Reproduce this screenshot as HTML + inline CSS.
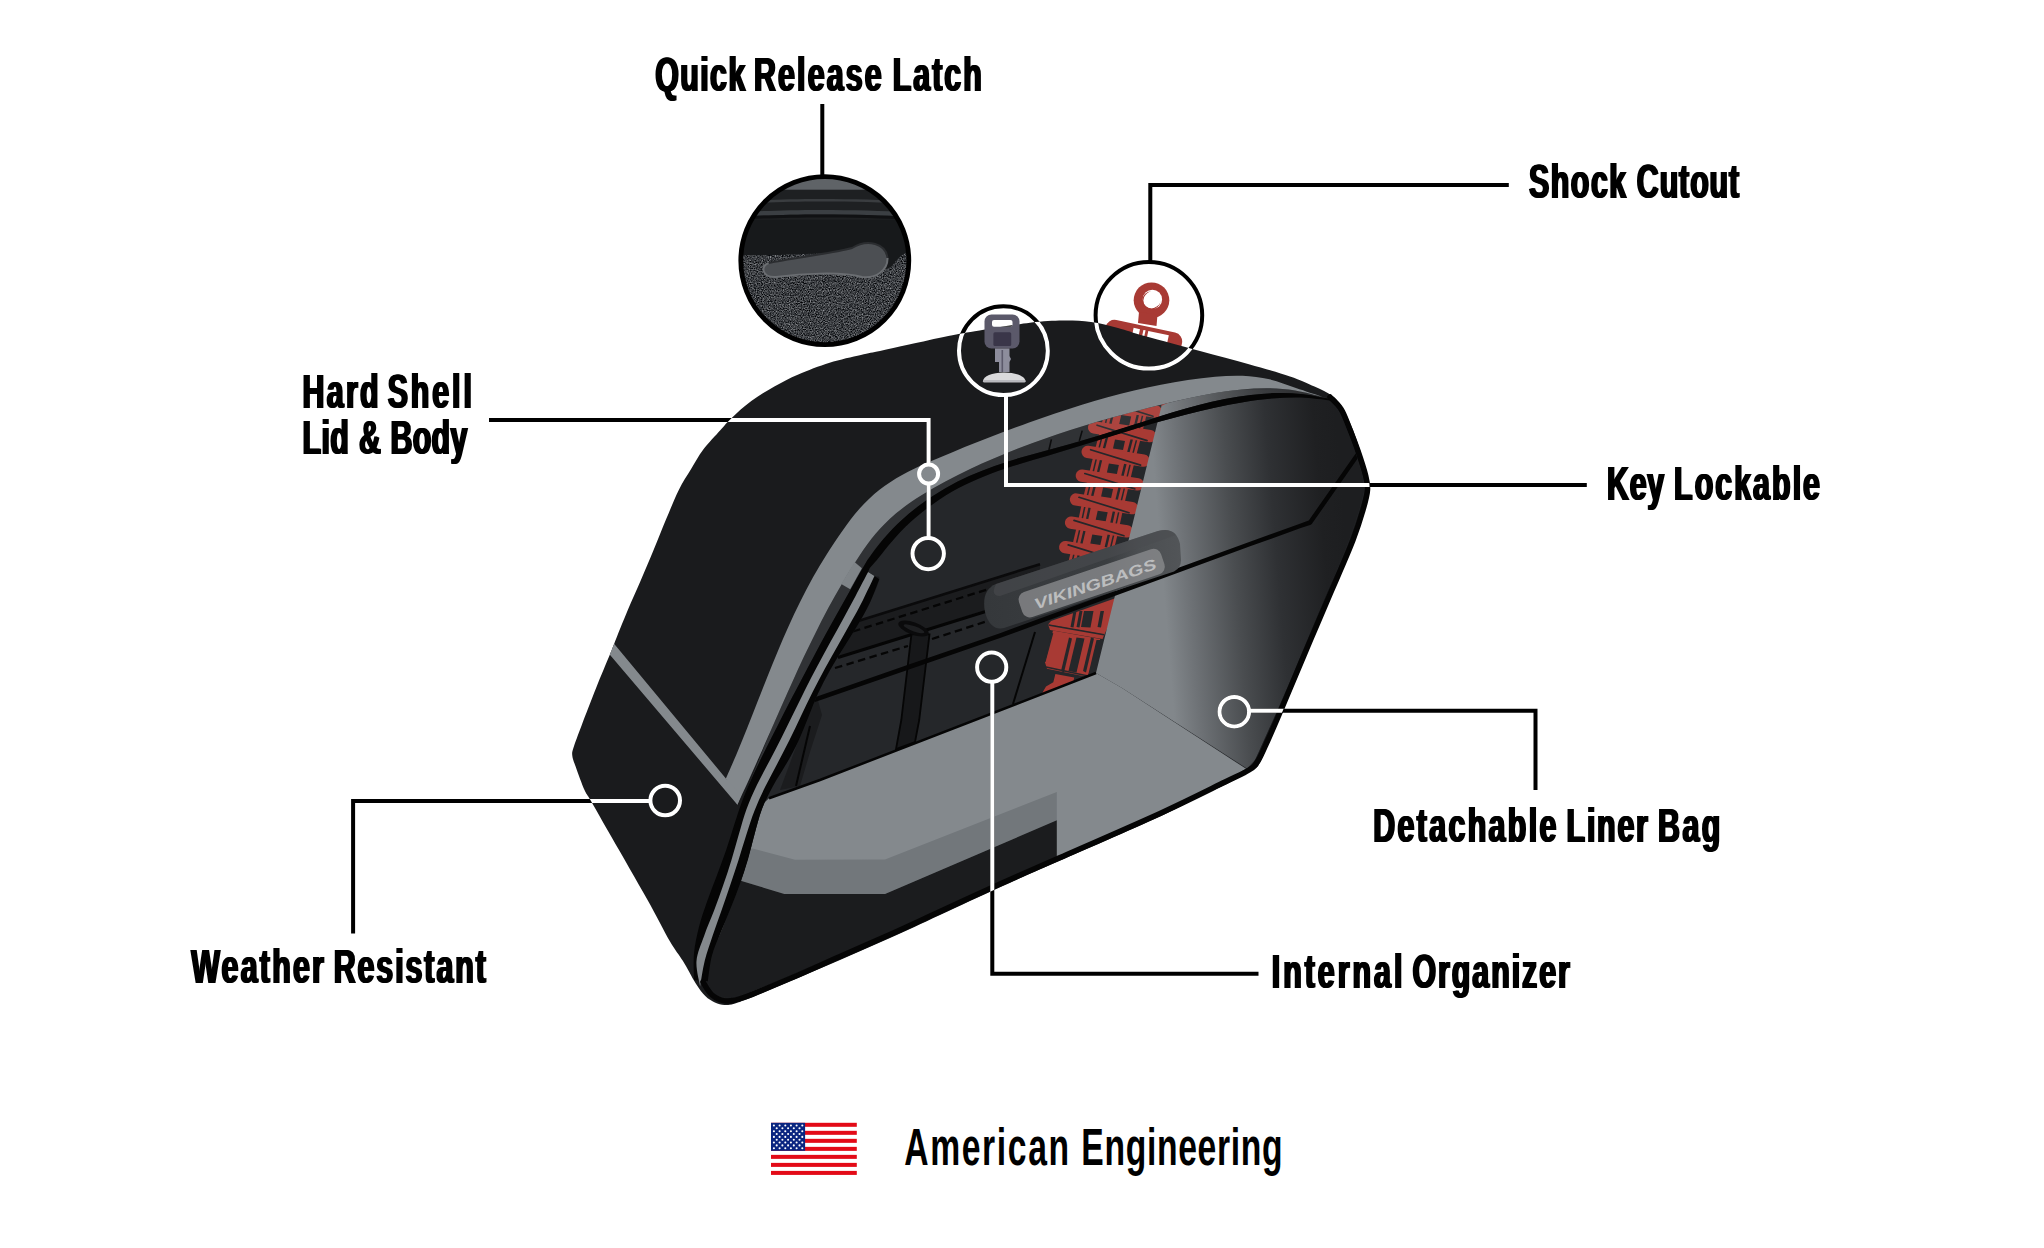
<!DOCTYPE html>
<html lang="en"><head><meta charset="utf-8"><title>Hard Shell Saddlebag Features</title>
<style>html,body{margin:0;padding:0;background:#fff}svg{display:block}text{font-family:"Liberation Sans",sans-serif;font-weight:700}</style></head>
<body>
<svg width="2044" height="1248" viewBox="0 0 2044 1248">
<defs>
<clipPath id="bagclip"><path d="M572.3 755.7C571.9 752.3 572.2 752.2 573.7 747.1C575.2 742.0 577.9 735.3 581.6 725.4C585.3 715.5 591.4 699.7 596.1 687.9C600.8 676.1 606.8 662.0 609.8 654.7C612.8 647.4 611.1 651.4 614.1 643.9C617.1 636.4 623.4 620.4 627.8 610.0C632.2 599.6 636.1 591.4 640.4 581.3C644.7 571.2 649.5 560.0 653.8 549.6C658.1 539.2 662.1 528.7 666.3 518.8C670.5 508.9 674.7 498.3 678.8 490.0C682.9 481.7 687.0 475.8 691.1 469.1C695.2 462.4 698.4 456.1 703.3 449.6C708.2 443.1 715.8 435.3 720.5 430.0C725.2 424.7 726.6 422.7 731.7 417.9C736.8 413.1 744.1 406.4 751.3 401.1C758.5 395.8 767.0 390.6 774.8 386.2C782.6 381.8 789.2 378.3 798.3 374.4C807.4 370.5 819.2 365.9 829.6 362.7C840.0 359.4 852.5 356.8 860.9 354.9C869.3 352.9 872.0 352.7 880.0 351.0C888.0 349.3 897.7 347.1 909.1 344.6C920.5 342.1 936.5 338.4 948.3 336.0C960.0 333.6 966.0 332.7 979.6 330.5C993.2 328.3 1016.1 324.4 1030.0 322.7C1043.9 321.0 1052.8 320.6 1063.0 320.5C1073.2 320.4 1081.8 320.8 1091.0 322.0C1100.2 323.2 1108.9 325.6 1118.0 328.0C1127.1 330.4 1131.8 332.5 1145.5 336.3C1159.2 340.1 1182.8 346.4 1200.0 351.0C1217.2 355.6 1233.9 360.0 1248.9 364.2C1263.9 368.4 1279.1 372.7 1290.0 376.4C1300.9 380.1 1307.6 383.4 1314.5 386.6C1321.4 389.8 1327.5 392.8 1331.6 395.4C1335.7 398.0 1336.9 399.9 1338.9 402.3C1340.9 404.8 1342.2 407.2 1343.8 410.1C1345.4 413.0 1347.2 416.6 1348.7 419.9C1350.2 423.2 1351.2 425.0 1353.1 430.0C1355.0 435.0 1357.6 442.5 1360.0 450.0C1362.4 457.5 1365.9 468.3 1367.5 475.0C1369.1 481.7 1369.9 484.2 1369.5 490.0C1369.1 495.8 1367.4 501.7 1365.0 510.0C1362.6 518.3 1358.8 530.0 1355.0 540.0C1351.2 550.0 1346.2 561.3 1342.5 570.0C1338.8 578.7 1338.0 580.3 1333.0 592.0C1328.0 603.7 1318.7 625.3 1312.5 640.0C1306.3 654.7 1301.0 668.2 1296.0 680.0C1291.0 691.8 1287.1 700.8 1282.8 710.8C1278.5 720.8 1273.8 731.3 1270.0 740.0C1266.2 748.7 1262.8 757.8 1259.9 762.8C1257.0 767.8 1258.6 766.1 1252.8 769.8C1247.0 773.5 1233.8 780.6 1225.0 785.0C1216.2 789.4 1210.8 791.0 1200.0 796.2C1189.2 801.4 1184.8 805.0 1160.0 816.4C1135.2 827.8 1077.7 852.8 1051.0 864.6C1024.3 876.4 1018.5 878.8 1000.0 887.2C981.5 895.6 958.3 906.5 940.0 915.0C921.7 923.5 906.7 930.5 890.0 938.0C873.3 945.5 856.7 952.8 840.0 960.0C823.3 967.2 804.5 975.2 790.0 981.3C775.5 987.4 762.6 993.0 753.3 996.7C744.0 1000.4 738.9 1002.3 734.1 1003.7C729.3 1005.1 727.7 1005.2 724.5 1005.0C721.3 1004.8 718.1 1003.9 714.9 1002.4C711.7 1000.9 708.5 999.2 705.3 996.0C702.1 992.8 699.4 989.1 695.6 983.2C691.9 977.3 687.1 967.8 682.8 960.8C678.5 953.8 676.0 951.8 670.0 941.5C664.0 931.2 656.7 916.3 647.0 899.0C637.3 881.7 621.2 853.9 611.8 837.5C602.4 821.1 595.2 808.4 590.7 800.5C586.2 792.6 587.0 795.5 584.5 790.0C582.0 784.5 577.9 773.0 575.9 767.3C573.9 761.6 572.7 759.1 572.3 755.7Z"/></clipPath>
<clipPath id="intclip"><path d="M1330.0 400.5C1325.7 400.2 1310.6 397.9 1301.0 397.6C1291.3 397.3 1281.6 397.8 1272.0 398.6C1262.4 399.4 1252.7 400.8 1243.2 402.3C1233.6 403.9 1224.1 405.7 1214.6 407.8C1205.1 409.8 1195.7 412.0 1186.3 414.4C1176.9 416.8 1167.5 419.4 1158.1 422.1C1148.8 424.7 1139.4 427.6 1130.1 430.4C1120.8 433.2 1111.6 436.1 1102.3 439.0C1093.0 441.8 1083.8 444.8 1074.6 447.6C1065.3 450.4 1056.0 453.2 1046.8 456.0C1037.5 458.7 1028.1 461.3 1018.8 464.2C1009.6 467.1 1000.3 470.0 991.2 473.5C982.2 477.0 973.2 480.7 964.5 485.0C955.9 489.3 947.4 494.1 939.4 499.4C931.3 504.8 923.5 510.7 916.2 517.1C908.8 523.4 901.8 530.3 895.3 537.4C888.7 544.6 879.9 556.2 876.8 560.0C873.7 563.8 878.0 558.7 876.8 560.0C875.6 561.3 871.2 566.1 869.7 568.1C868.2 570.1 867.3 570.8 868.1 572.1C868.9 573.4 872.6 574.9 874.5 576.1C876.4 577.3 880.1 574.8 879.3 579.3C878.5 583.8 873.3 595.5 869.6 603.3C865.9 611.1 861.5 618.6 857.1 626.0C852.7 633.5 847.9 640.7 843.4 648.1C838.8 655.4 834.1 662.7 829.9 670.2C825.6 677.7 821.6 685.4 818.0 693.2C814.4 701.0 811.6 709.2 808.3 717.2C805.0 725.2 802.0 733.4 798.3 741.2C794.6 749.0 790.4 756.5 786.1 764.1C781.9 771.6 776.9 778.8 772.8 786.3C768.8 793.9 764.8 801.5 761.8 809.4C758.8 817.3 756.9 825.7 754.6 834.0C752.3 842.2 750.5 850.7 748.1 858.9C745.7 867.2 743.0 875.3 740.1 883.4C737.2 891.6 734.0 899.6 730.9 907.6C727.7 915.6 724.2 923.6 721.0 931.6C717.8 939.6 714.1 947.5 711.9 955.8C709.7 964.1 707.3 975.1 707.8 981.3C708.3 987.5 712.1 990.1 714.9 992.8C717.7 995.5 721.3 996.7 724.5 997.3C727.7 997.9 729.2 997.6 734.0 996.5C738.8 995.4 744.0 994.3 753.3 990.9C762.6 987.5 775.5 982.3 790.0 976.2C804.5 970.1 823.3 961.8 840.0 954.5C856.7 947.2 873.3 940.0 890.0 932.5C906.7 925.0 921.7 917.9 940.0 909.5C958.3 901.1 981.5 890.3 1000.0 882.0C1018.5 873.7 1024.3 871.2 1051.0 859.5C1077.7 847.8 1131.0 824.7 1160.0 811.5C1189.0 798.3 1210.5 787.7 1225.0 780.5C1239.5 773.3 1242.0 771.9 1247.0 768.5C1252.0 765.1 1252.0 765.1 1255.0 760.0C1258.0 754.9 1261.2 746.5 1265.0 738.0C1268.8 729.5 1273.7 718.8 1278.0 709.0C1282.3 699.2 1286.0 690.8 1291.0 679.0C1296.0 667.2 1301.8 652.8 1308.0 638.0C1314.2 623.2 1323.0 601.7 1328.0 590.0C1333.0 578.3 1334.3 576.7 1338.0 568.0C1341.7 559.3 1346.3 548.0 1350.0 538.0C1353.7 528.0 1357.6 516.0 1360.0 508.0C1362.4 500.0 1364.1 495.5 1364.5 490.0C1364.9 484.5 1364.1 481.5 1362.5 475.0C1360.9 468.5 1357.4 458.3 1355.0 451.0C1352.6 443.7 1349.9 436.0 1348.0 431.0C1346.1 426.0 1345.1 424.3 1343.5 421.0C1341.9 417.7 1340.2 413.8 1338.5 411.0C1336.8 408.2 1335.4 405.9 1333.5 404.0C1331.6 402.1 1327.6 400.1 1327.0 399.5C1326.4 398.9 1334.3 400.8 1330.0 400.5Z"/><path d="M1322.0 396.8C1317.5 395.7 1304.1 391.9 1295.2 390.5C1286.3 389.0 1277.3 388.4 1268.4 388.2C1259.5 388.1 1250.6 388.6 1241.7 389.4C1232.8 390.1 1223.9 391.5 1215.0 393.0C1206.2 394.5 1197.3 396.4 1188.5 398.3C1179.6 400.3 1170.8 402.4 1162.0 404.6C1153.2 406.7 1144.4 408.9 1135.6 411.2C1126.8 413.5 1118.1 415.9 1109.3 418.3C1100.6 420.8 1092.0 423.3 1083.3 426.0C1074.7 428.6 1066.1 431.3 1057.5 434.2C1049.0 437.1 1040.4 440.0 1032.0 443.2C1023.5 446.3 1015.1 449.5 1006.8 452.9C998.4 456.3 990.2 459.8 981.9 463.6C973.7 467.3 965.6 471.1 957.5 475.2C949.4 479.3 941.4 483.4 933.6 487.9C925.8 492.5 918.0 497.1 910.7 502.3C903.4 507.5 896.2 512.9 889.7 519.0C883.2 525.1 877.2 531.8 871.5 538.8C865.9 545.9 860.9 553.6 855.9 561.2C850.9 568.7 846.2 576.5 841.6 584.4C837.0 592.2 832.6 600.1 828.3 608.1C824.0 616.1 819.9 624.2 815.9 632.2C811.8 640.3 807.9 648.5 804.0 656.6C800.2 664.8 796.4 673.0 792.7 681.2C789.0 689.4 785.3 697.6 781.7 705.8C778.0 714.1 772.6 726.4 770.8 730.6L742.9 799.3C744.7 795.2 749.8 782.8 753.5 774.6C757.2 766.4 761.3 758.4 765.2 750.3C769.2 742.2 773.3 734.2 777.4 726.2C781.5 718.1 785.6 710.1 789.7 702.1C793.9 694.1 798.0 686.2 802.3 678.2C806.5 670.2 810.7 662.3 815.0 654.3C819.2 646.4 823.5 638.5 827.8 630.6C832.2 622.7 836.5 614.8 840.9 607.0C845.3 599.1 849.7 591.2 854.1 583.4C858.6 575.6 862.6 567.5 867.5 560.0C872.4 552.5 877.9 545.4 883.7 538.7C889.6 531.9 895.8 525.5 902.4 519.5C909.0 513.5 915.9 507.9 923.1 502.7C930.3 497.4 937.8 492.6 945.5 488.2C953.2 483.8 961.2 479.8 969.3 476.1C977.4 472.5 985.7 469.3 994.0 466.3C1002.3 463.2 1010.8 460.6 1019.3 458.1C1027.8 455.5 1036.3 453.3 1044.8 450.9C1053.3 448.5 1061.8 446.3 1070.3 443.9C1078.9 441.5 1087.4 439.1 1095.9 436.6C1104.4 434.0 1112.9 431.3 1121.5 428.6C1130.0 425.9 1138.6 423.1 1147.2 420.4C1155.7 417.6 1164.3 414.9 1172.9 412.3C1181.6 409.8 1190.2 407.2 1198.8 405.0C1207.5 402.8 1216.1 400.7 1224.8 399.0C1233.5 397.3 1242.2 395.9 1250.9 394.9C1259.7 393.9 1268.4 393.2 1277.2 393.1C1285.9 393.0 1294.7 393.3 1303.5 394.3C1312.3 395.3 1325.6 398.2 1330.0 399.0Z"/></clipPath>
<linearGradient id="panelg" gradientUnits="userSpaceOnUse" x1="1150" y1="420" x2="1335" y2="405"><stop offset="0" stop-color="#82878b"/><stop offset="0.135" stop-color="#6e7276"/><stop offset="0.39" stop-color="#4a4d50"/><stop offset="0.62" stop-color="#2f3134"/><stop offset="0.88" stop-color="#1f2022"/><stop offset="1" stop-color="#1d1e20"/></linearGradient>
<linearGradient id="handleg" gradientUnits="userSpaceOnUse" x1="985" y1="0" x2="1182" y2="0"><stop offset="0" stop-color="#35383b"/><stop offset="0.62" stop-color="#3b3e41"/><stop offset="0.78" stop-color="#4b4e51"/><stop offset="1" stop-color="#525558"/></linearGradient>
<filter id="tb" x="-5%" y="-5%" width="110%" height="110%"><feOffset in="SourceGraphic" dx="-0.8" result="a"/><feOffset in="SourceGraphic" dx="0.8" result="b"/><feMerge><feMergeNode in="a"/><feMergeNode in="SourceGraphic"/><feMergeNode in="b"/></feMerge></filter>
<filter id="tc" x="-5%" y="-5%" width="110%" height="110%"><feOffset in="SourceGraphic" dx="-0.5" result="a"/><feOffset in="SourceGraphic" dx="0.5" result="b"/><feMerge><feMergeNode in="a"/><feMergeNode in="SourceGraphic"/><feMergeNode in="b"/></feMerge></filter>
<filter id="grain" x="0" y="0" width="100%" height="100%" color-interpolation-filters="sRGB"><feTurbulence type="fractalNoise" baseFrequency="0.85" numOctaves="2" seed="7" result="n"/><feColorMatrix in="n" type="matrix" values="0.9 0 0 0 -0.215  0.9 0 0 0 -0.205  0.9 0 0 0 -0.19  0 0 0 0 1" result="g"/><feComposite in="g" in2="SourceGraphic" operator="in"/></filter>
<clipPath id="latchclip"><circle cx="824.8" cy="260.6" r="84"/></clipPath>
<clipPath id="shockcirc"><circle cx="1148.9" cy="315.3" r="53.3"/></clipPath>
</defs>
<rect width="2044" height="1248" fill="#fff"/>
<circle cx="1148.9" cy="315.3" r="53.3" fill="#fff"/>
<g clip-path="url(#shockcirc)"><circle cx="1151.5" cy="300.2" r="17.8" fill="#a83a34"/>
<circle cx="1152.4" cy="299.4" r="9.7" fill="#fff"/>
<circle cx="1151.4" cy="300.4" r="8.6" fill="none" stroke="#a83a34" stroke-width="1.1"/>
<circle cx="1153.2" cy="298.9" r="8.1" fill="#fff"/>
<path d="M1139 312 L1157.5 314.5 L1156.5 326 L1138 323 Z" fill="#a83a34"/>
<g transform="translate(0 4) rotate(12 1143 335)"><rect x="1104" y="322" width="78" height="40" rx="9" fill="#a83a34"/>
<rect x="1131.5" y="326" width="6.5" height="30" fill="#fff"/><rect x="1141.5" y="326" width="2.2" height="30" fill="#fff"/><rect x="1146.5" y="326" width="21" height="8" fill="#fff"/></g>
</g>
<path d="M572.3 755.7C571.9 752.3 572.2 752.2 573.7 747.1C575.2 742.0 577.9 735.3 581.6 725.4C585.3 715.5 591.4 699.7 596.1 687.9C600.8 676.1 606.8 662.0 609.8 654.7C612.8 647.4 611.1 651.4 614.1 643.9C617.1 636.4 623.4 620.4 627.8 610.0C632.2 599.6 636.1 591.4 640.4 581.3C644.7 571.2 649.5 560.0 653.8 549.6C658.1 539.2 662.1 528.7 666.3 518.8C670.5 508.9 674.7 498.3 678.8 490.0C682.9 481.7 687.0 475.8 691.1 469.1C695.2 462.4 698.4 456.1 703.3 449.6C708.2 443.1 715.8 435.3 720.5 430.0C725.2 424.7 726.6 422.7 731.7 417.9C736.8 413.1 744.1 406.4 751.3 401.1C758.5 395.8 767.0 390.6 774.8 386.2C782.6 381.8 789.2 378.3 798.3 374.4C807.4 370.5 819.2 365.9 829.6 362.7C840.0 359.4 852.5 356.8 860.9 354.9C869.3 352.9 872.0 352.7 880.0 351.0C888.0 349.3 897.7 347.1 909.1 344.6C920.5 342.1 936.5 338.4 948.3 336.0C960.0 333.6 966.0 332.7 979.6 330.5C993.2 328.3 1016.1 324.4 1030.0 322.7C1043.9 321.0 1052.8 320.6 1063.0 320.5C1073.2 320.4 1081.8 320.8 1091.0 322.0C1100.2 323.2 1108.9 325.6 1118.0 328.0C1127.1 330.4 1131.8 332.5 1145.5 336.3C1159.2 340.1 1182.8 346.4 1200.0 351.0C1217.2 355.6 1233.9 360.0 1248.9 364.2C1263.9 368.4 1279.1 372.7 1290.0 376.4C1300.9 380.1 1307.6 383.4 1314.5 386.6C1321.4 389.8 1327.5 392.8 1331.6 395.4C1335.7 398.0 1336.9 399.9 1338.9 402.3C1340.9 404.8 1342.2 407.2 1343.8 410.1C1345.4 413.0 1347.2 416.6 1348.7 419.9C1350.2 423.2 1351.2 425.0 1353.1 430.0C1355.0 435.0 1357.6 442.5 1360.0 450.0C1362.4 457.5 1365.9 468.3 1367.5 475.0C1369.1 481.7 1369.9 484.2 1369.5 490.0C1369.1 495.8 1367.4 501.7 1365.0 510.0C1362.6 518.3 1358.8 530.0 1355.0 540.0C1351.2 550.0 1346.2 561.3 1342.5 570.0C1338.8 578.7 1338.0 580.3 1333.0 592.0C1328.0 603.7 1318.7 625.3 1312.5 640.0C1306.3 654.7 1301.0 668.2 1296.0 680.0C1291.0 691.8 1287.1 700.8 1282.8 710.8C1278.5 720.8 1273.8 731.3 1270.0 740.0C1266.2 748.7 1262.8 757.8 1259.9 762.8C1257.0 767.8 1258.6 766.1 1252.8 769.8C1247.0 773.5 1233.8 780.6 1225.0 785.0C1216.2 789.4 1210.8 791.0 1200.0 796.2C1189.2 801.4 1184.8 805.0 1160.0 816.4C1135.2 827.8 1077.7 852.8 1051.0 864.6C1024.3 876.4 1018.5 878.8 1000.0 887.2C981.5 895.6 958.3 906.5 940.0 915.0C921.7 923.5 906.7 930.5 890.0 938.0C873.3 945.5 856.7 952.8 840.0 960.0C823.3 967.2 804.5 975.2 790.0 981.3C775.5 987.4 762.6 993.0 753.3 996.7C744.0 1000.4 738.9 1002.3 734.1 1003.7C729.3 1005.1 727.7 1005.2 724.5 1005.0C721.3 1004.8 718.1 1003.9 714.9 1002.4C711.7 1000.9 708.5 999.2 705.3 996.0C702.1 992.8 699.4 989.1 695.6 983.2C691.9 977.3 687.1 967.8 682.8 960.8C678.5 953.8 676.0 951.8 670.0 941.5C664.0 931.2 656.7 916.3 647.0 899.0C637.3 881.7 621.2 853.9 611.8 837.5C602.4 821.1 595.2 808.4 590.7 800.5C586.2 792.6 587.0 795.5 584.5 790.0C582.0 784.5 577.9 773.0 575.9 767.3C573.9 761.6 572.7 759.1 572.3 755.7Z" fill="#1a1b1d"/>
<path d="M1330.0 400.5C1325.7 400.2 1310.6 397.9 1301.0 397.6C1291.3 397.3 1281.6 397.8 1272.0 398.6C1262.4 399.4 1252.7 400.8 1243.2 402.3C1233.6 403.9 1224.1 405.7 1214.6 407.8C1205.1 409.8 1195.7 412.0 1186.3 414.4C1176.9 416.8 1167.5 419.4 1158.1 422.1C1148.8 424.7 1139.4 427.6 1130.1 430.4C1120.8 433.2 1111.6 436.1 1102.3 439.0C1093.0 441.8 1083.8 444.8 1074.6 447.6C1065.3 450.4 1056.0 453.2 1046.8 456.0C1037.5 458.7 1028.1 461.3 1018.8 464.2C1009.6 467.1 1000.3 470.0 991.2 473.5C982.2 477.0 973.2 480.7 964.5 485.0C955.9 489.3 947.4 494.1 939.4 499.4C931.3 504.8 923.5 510.7 916.2 517.1C908.8 523.4 901.8 530.3 895.3 537.4C888.7 544.6 879.9 556.2 876.8 560.0C873.7 563.8 878.0 558.7 876.8 560.0C875.6 561.3 871.2 566.1 869.7 568.1C868.2 570.1 867.3 570.8 868.1 572.1C868.9 573.4 872.6 574.9 874.5 576.1C876.4 577.3 880.1 574.8 879.3 579.3C878.5 583.8 873.3 595.5 869.6 603.3C865.9 611.1 861.5 618.6 857.1 626.0C852.7 633.5 847.9 640.7 843.4 648.1C838.8 655.4 834.1 662.7 829.9 670.2C825.6 677.7 821.6 685.4 818.0 693.2C814.4 701.0 811.6 709.2 808.3 717.2C805.0 725.2 802.0 733.4 798.3 741.2C794.6 749.0 790.4 756.5 786.1 764.1C781.9 771.6 776.9 778.8 772.8 786.3C768.8 793.9 764.8 801.5 761.8 809.4C758.8 817.3 756.9 825.7 754.6 834.0C752.3 842.2 750.5 850.7 748.1 858.9C745.7 867.2 743.0 875.3 740.1 883.4C737.2 891.6 734.0 899.6 730.9 907.6C727.7 915.6 724.2 923.6 721.0 931.6C717.8 939.6 714.1 947.5 711.9 955.8C709.7 964.1 707.3 975.1 707.8 981.3C708.3 987.5 712.1 990.1 714.9 992.8C717.7 995.5 721.3 996.7 724.5 997.3C727.7 997.9 729.2 997.6 734.0 996.5C738.8 995.4 744.0 994.3 753.3 990.9C762.6 987.5 775.5 982.3 790.0 976.2C804.5 970.1 823.3 961.8 840.0 954.5C856.7 947.2 873.3 940.0 890.0 932.5C906.7 925.0 921.7 917.9 940.0 909.5C958.3 901.1 981.5 890.3 1000.0 882.0C1018.5 873.7 1024.3 871.2 1051.0 859.5C1077.7 847.8 1131.0 824.7 1160.0 811.5C1189.0 798.3 1210.5 787.7 1225.0 780.5C1239.5 773.3 1242.0 771.9 1247.0 768.5C1252.0 765.1 1252.0 765.1 1255.0 760.0C1258.0 754.9 1261.2 746.5 1265.0 738.0C1268.8 729.5 1273.7 718.8 1278.0 709.0C1282.3 699.2 1286.0 690.8 1291.0 679.0C1296.0 667.2 1301.8 652.8 1308.0 638.0C1314.2 623.2 1323.0 601.7 1328.0 590.0C1333.0 578.3 1334.3 576.7 1338.0 568.0C1341.7 559.3 1346.3 548.0 1350.0 538.0C1353.7 528.0 1357.6 516.0 1360.0 508.0C1362.4 500.0 1364.1 495.5 1364.5 490.0C1364.9 484.5 1364.1 481.5 1362.5 475.0C1360.9 468.5 1357.4 458.3 1355.0 451.0C1352.6 443.7 1349.9 436.0 1348.0 431.0C1346.1 426.0 1345.1 424.3 1343.5 421.0C1341.9 417.7 1340.2 413.8 1338.5 411.0C1336.8 408.2 1335.4 405.9 1333.5 404.0C1331.6 402.1 1327.6 400.1 1327.0 399.5C1326.4 398.9 1334.3 400.8 1330.0 400.5Z" fill="#25272a"/>
<path d="M1322.0 396.8C1317.5 395.7 1304.1 391.9 1295.2 390.5C1286.3 389.0 1277.3 388.4 1268.4 388.2C1259.5 388.1 1250.6 388.6 1241.7 389.4C1232.8 390.1 1223.9 391.5 1215.0 393.0C1206.2 394.5 1197.3 396.4 1188.5 398.3C1179.6 400.3 1170.8 402.4 1162.0 404.6C1153.2 406.7 1144.4 408.9 1135.6 411.2C1126.8 413.5 1118.1 415.9 1109.3 418.3C1100.6 420.8 1092.0 423.3 1083.3 426.0C1074.7 428.6 1066.1 431.3 1057.5 434.2C1049.0 437.1 1040.4 440.0 1032.0 443.2C1023.5 446.3 1015.1 449.5 1006.8 452.9C998.4 456.3 990.2 459.8 981.9 463.6C973.7 467.3 965.6 471.1 957.5 475.2C949.4 479.3 941.4 483.4 933.6 487.9C925.8 492.5 918.0 497.1 910.7 502.3C903.4 507.5 896.2 512.9 889.7 519.0C883.2 525.1 877.2 531.8 871.5 538.8C865.9 545.9 860.9 553.6 855.9 561.2C850.9 568.7 846.2 576.5 841.6 584.4C837.0 592.2 832.6 600.1 828.3 608.1C824.0 616.1 819.9 624.2 815.9 632.2C811.8 640.3 807.9 648.5 804.0 656.6C800.2 664.8 796.4 673.0 792.7 681.2C789.0 689.4 785.3 697.6 781.7 705.8C778.0 714.1 772.6 726.4 770.8 730.6L742.9 799.3C744.7 795.2 749.8 782.8 753.5 774.6C757.2 766.4 761.3 758.4 765.2 750.3C769.2 742.2 773.3 734.2 777.4 726.2C781.5 718.1 785.6 710.1 789.7 702.1C793.9 694.1 798.0 686.2 802.3 678.2C806.5 670.2 810.7 662.3 815.0 654.3C819.2 646.4 823.5 638.5 827.8 630.6C832.2 622.7 836.5 614.8 840.9 607.0C845.3 599.1 849.7 591.2 854.1 583.4C858.6 575.6 862.6 567.5 867.5 560.0C872.4 552.5 877.9 545.4 883.7 538.7C889.6 531.9 895.8 525.5 902.4 519.5C909.0 513.5 915.9 507.9 923.1 502.7C930.3 497.4 937.8 492.6 945.5 488.2C953.2 483.8 961.2 479.8 969.3 476.1C977.4 472.5 985.7 469.3 994.0 466.3C1002.3 463.2 1010.8 460.6 1019.3 458.1C1027.8 455.5 1036.3 453.3 1044.8 450.9C1053.3 448.5 1061.8 446.3 1070.3 443.9C1078.9 441.5 1087.4 439.1 1095.9 436.6C1104.4 434.0 1112.9 431.3 1121.5 428.6C1130.0 425.9 1138.6 423.1 1147.2 420.4C1155.7 417.6 1164.3 414.9 1172.9 412.3C1181.6 409.8 1190.2 407.2 1198.8 405.0C1207.5 402.8 1216.1 400.7 1224.8 399.0C1233.5 397.3 1242.2 395.9 1250.9 394.9C1259.7 393.9 1268.4 393.2 1277.2 393.1C1285.9 393.0 1294.7 393.3 1303.5 394.3C1312.3 395.3 1325.6 398.2 1330.0 399.0Z" fill="#25272a"/>
<g clip-path="url(#intclip)">
<path d="M1106.5 404.0L1109.3 404.4L1103.4 428.8L1100.6 428.4Z" fill="#a83a34"/><path d="M1110.8 404.7L1113.7 405.1L1107.8 429.5L1104.9 429.1Z" fill="#a83a34"/><path d="M1116.0 405.5L1138.0 408.9L1132.1 433.3L1110.1 429.9Z" fill="#a83a34"/><path d="M1140.4 409.3L1143.2 409.7L1137.3 434.1L1134.5 433.7Z" fill="#a83a34"/><path d="M1144.7 409.9L1147.6 410.4L1141.7 434.8L1138.8 434.3Z" fill="#a83a34"/><path d="M1121.2 414.9L1131.2 416.4L1129.2 425.4L1119.2 423.9Z" fill="#25272a"/>
<path d="M1100.6 428.4L1103.4 428.8L1096.9 453.3L1094.1 452.9Z" fill="#a83a34"/><path d="M1104.9 429.1L1107.8 429.5L1101.3 454.0L1098.4 453.6Z" fill="#a83a34"/><path d="M1110.1 429.9L1132.1 433.3L1125.6 457.8L1103.6 454.4Z" fill="#a83a34"/><path d="M1134.5 433.7L1137.3 434.1L1130.8 458.6L1128.0 458.2Z" fill="#a83a34"/><path d="M1138.8 434.3L1141.7 434.8L1135.2 459.3L1132.3 458.8Z" fill="#a83a34"/><path d="M1115.0 439.4L1125.0 440.9L1123.0 449.9L1113.0 448.4Z" fill="#25272a"/>
<path d="M1094.1 452.9L1096.9 453.3L1091.1 477.1L1088.3 476.7Z" fill="#a83a34"/><path d="M1098.4 453.6L1101.3 454.0L1095.5 477.8L1092.6 477.4Z" fill="#a83a34"/><path d="M1103.6 454.4L1125.6 457.8L1119.8 481.6L1097.8 478.2Z" fill="#a83a34"/><path d="M1128.0 458.2L1130.8 458.6L1125.0 482.4L1122.2 482.0Z" fill="#a83a34"/><path d="M1132.3 458.8L1135.2 459.3L1129.4 483.1L1126.5 482.6Z" fill="#a83a34"/><path d="M1108.9 463.5L1118.9 465.0L1116.9 474.0L1106.9 472.5Z" fill="#25272a"/>
<path d="M1088.3 476.7L1091.1 477.1L1085.3 500.9L1082.5 500.5Z" fill="#a83a34"/><path d="M1092.6 477.4L1095.5 477.8L1089.7 501.6L1086.8 501.2Z" fill="#a83a34"/><path d="M1097.8 478.2L1119.8 481.6L1114.0 505.4L1092.0 502.0Z" fill="#a83a34"/><path d="M1122.2 482.0L1125.0 482.4L1119.2 506.2L1116.4 505.8Z" fill="#a83a34"/><path d="M1126.5 482.6L1129.4 483.1L1123.6 506.9L1120.7 506.4Z" fill="#a83a34"/><path d="M1103.1 487.4L1113.1 488.9L1111.1 497.9L1101.1 496.4Z" fill="#25272a"/>
<path d="M1082.5 500.5L1085.3 500.9L1080.3 524.0L1077.5 523.6Z" fill="#a83a34"/><path d="M1086.8 501.2L1089.7 501.6L1084.7 524.7L1081.8 524.3Z" fill="#a83a34"/><path d="M1092.0 502.0L1114.0 505.4L1109.0 528.5L1087.0 525.1Z" fill="#a83a34"/><path d="M1116.4 505.8L1119.2 506.2L1114.2 529.3L1111.4 528.9Z" fill="#a83a34"/><path d="M1120.7 506.4L1123.6 506.9L1118.6 530.0L1115.7 529.5Z" fill="#a83a34"/><path d="M1097.7 510.8L1107.7 512.3L1105.7 521.3L1095.7 519.8Z" fill="#25272a"/>
<path d="M1077.5 523.6L1080.3 524.0L1074.5 548.5L1071.7 548.1Z" fill="#a83a34"/><path d="M1081.8 524.3L1084.7 524.7L1078.9 549.2L1076.0 548.8Z" fill="#a83a34"/><path d="M1087.0 525.1L1109.0 528.5L1103.2 553.0L1081.2 549.6Z" fill="#a83a34"/><path d="M1111.4 528.9L1114.2 529.3L1108.4 553.8L1105.6 553.4Z" fill="#a83a34"/><path d="M1115.7 529.5L1118.6 530.0L1112.8 554.5L1109.9 554.0Z" fill="#a83a34"/><path d="M1092.3 534.6L1102.3 536.1L1100.3 545.1L1090.3 543.6Z" fill="#25272a"/>
<path d="M1071.7 548.1L1074.5 548.5L1068.8 572.4L1066.0 572.0Z" fill="#a83a34"/><path d="M1076.0 548.8L1078.9 549.2L1073.2 573.1L1070.3 572.7Z" fill="#a83a34"/><path d="M1081.2 549.6L1103.2 553.0L1097.5 576.9L1075.5 573.5Z" fill="#a83a34"/><path d="M1105.6 553.4L1108.4 553.8L1102.7 577.7L1099.9 577.3Z" fill="#a83a34"/><path d="M1109.9 554.0L1112.8 554.5L1107.1 578.4L1104.2 577.9Z" fill="#a83a34"/><path d="M1086.5 558.8L1096.5 560.3L1094.5 569.3L1084.5 567.8Z" fill="#25272a"/>
<line x1="1100.0" y1="403.0" x2="1156.0" y2="411.7" stroke="#a83a34" stroke-width="12.3" stroke-linecap="round"/><line x1="1103.0" y1="400.8" x2="1153.0" y2="416.2" stroke="#25272a" stroke-width="1.7" stroke-linecap="round"/>
<line x1="1094.1" y1="427.4" x2="1150.1" y2="436.1" stroke="#a83a34" stroke-width="12.3" stroke-linecap="round"/><line x1="1097.1" y1="425.2" x2="1147.1" y2="440.6" stroke="#25272a" stroke-width="1.7" stroke-linecap="round"/>
<line x1="1087.6" y1="451.9" x2="1143.6" y2="460.6" stroke="#a83a34" stroke-width="12.3" stroke-linecap="round"/><line x1="1090.6" y1="449.7" x2="1140.6" y2="465.1" stroke="#25272a" stroke-width="1.7" stroke-linecap="round"/>
<line x1="1081.8" y1="475.7" x2="1137.8" y2="484.4" stroke="#a83a34" stroke-width="12.3" stroke-linecap="round"/><line x1="1084.8" y1="473.5" x2="1134.8" y2="488.9" stroke="#25272a" stroke-width="1.7" stroke-linecap="round"/>
<line x1="1076.0" y1="499.5" x2="1132.0" y2="508.2" stroke="#a83a34" stroke-width="12.3" stroke-linecap="round"/><line x1="1079.0" y1="497.3" x2="1129.0" y2="512.7" stroke="#25272a" stroke-width="1.7" stroke-linecap="round"/>
<line x1="1071.0" y1="522.6" x2="1127.0" y2="531.3" stroke="#a83a34" stroke-width="12.3" stroke-linecap="round"/><line x1="1074.0" y1="520.4" x2="1124.0" y2="535.8" stroke="#25272a" stroke-width="1.7" stroke-linecap="round"/>
<line x1="1065.2" y1="547.1" x2="1121.2" y2="555.8" stroke="#a83a34" stroke-width="12.3" stroke-linecap="round"/><line x1="1068.2" y1="544.9" x2="1118.2" y2="560.3" stroke="#25272a" stroke-width="1.7" stroke-linecap="round"/>
<line x1="1059.5" y1="571.0" x2="1115.5" y2="579.7" stroke="#a83a34" stroke-width="12.3" stroke-linecap="round"/><line x1="1062.5" y1="568.8" x2="1112.5" y2="584.2" stroke="#25272a" stroke-width="1.7" stroke-linecap="round"/>
<path d="M1160.0 402.6L1168.3 401.5L1167.5 408.3L1162.0 407.0Z" fill="#a83a34"/>
<path d="M1051.0 621.0L1116.0 598.0L1114.0 614.0L1104.4 634.4L1048.1 624.5Z" fill="#a83a34"/>
<path d="M1073.5 611.0L1076.5 611.0L1073.5 627.5L1070.5 627.0Z" fill="#25272a"/>
<path d="M1079.5 611.0L1082.5 611.0L1079.5 627.5L1076.5 627.0Z" fill="#25272a"/>
<path d="M1084.0 611.0L1093.5 611.0L1090.5 627.5L1081.0 627.0Z" fill="#25272a"/>
<path d="M1100.5 611.0L1104.0 611.0L1101.0 627.5L1097.5 627.0Z" fill="#25272a"/>
<path d="M1048.1 624.5L1104.4 634.4L1102.5 639.0L1050.0 630.0Z" fill="#a83a34"/>
<line x1="1048.5" y1="625" x2="1104" y2="634.8" stroke="#25272a" stroke-width="1.6"/>
<path d="M1053.0 630.5L1100.2 639.0L1096.0 652.0L1087.7 677.0L1047.0 668.8L1045.0 662.5Z" fill="#a83a34"/>
<path d="M1051.5 633.0L1053.3 633.3L1045.5 662.0L1044.0 661.0Z" fill="#25272a"/>
<path d="M1069.0 637.5L1072.0 638.5L1064.0 672.5L1061.0 671.0Z" fill="#25272a"/>
<path d="M1076.5 637.5L1084.5 638.5L1076.5 672.5L1068.5 671.0Z" fill="#25272a"/>
<path d="M1091.0 637.5L1094.0 638.5L1086.0 672.5L1083.0 671.0Z" fill="#25272a"/>
<path d="M1096.5 640.0L1103.0 640.0L1092.0 678.0L1087.7 677.0Z" fill="#25272a"/>
<line x1="1046" y1="667" x2="1088" y2="676" stroke="#25272a" stroke-width="1.6"/>
<path d="M1055.4 674.0L1074.2 677.6L1072.0 690.0L1040.0 705.0L1042.4 692.7L1046.0 686.5L1053.3 682.3Z" fill="#a83a34"/>
<path d="M856.4 621.5L1040.0 564.2L1040.0 592.0L838.0 658.0Z" fill="#1b1c1e"/>
<line x1="855" y1="622" x2="1040" y2="564.2" stroke="#0a0a0b" stroke-width="2.6"/>
<line x1="853" y1="631.5" x2="1040" y2="573" stroke="#050505" stroke-width="2.3" stroke-dasharray="7.5 4.5"/>
<line x1="838" y1="657.5" x2="1000" y2="607" stroke="#050505" stroke-width="3"/>
<line x1="835" y1="668" x2="908" y2="646" stroke="#050505" stroke-width="2.3" stroke-dasharray="7.5 4.5"/>
<line x1="932" y1="639" x2="1000" y2="617" stroke="#050505" stroke-width="2.3" stroke-dasharray="7.5 4.5"/>
<path d="M817.0 697.0L806.0 720.0L780.0 790.0L800.0 786.0L810.0 752.0L822.0 715.0Z" fill="#1b1c1e"/>
<line x1="810" y1="726" x2="796" y2="786" stroke="#050505" stroke-width="2"/>
<line x1="1035" y1="632" x2="1013" y2="704" stroke="#050505" stroke-width="2"/>
<path d="M911.5 634.0L929.5 634.4L919.2 720.0L915.0 742.0L896.0 749.0L901.3 720.0Z" fill="#17181a" stroke="#050505" stroke-width="1.8"/>
<ellipse cx="913.5" cy="628.5" rx="16" ry="6.2" fill="#0a0a0b" transform="rotate(20 913.5 628.5)"/>
<ellipse cx="914" cy="628.8" rx="11" ry="2.6" fill="#1d1e20" transform="rotate(20 914 628.8)"/>
<path d="M1161.5 406.0L1168.5 402.6L1200.0 394.5L1239.1 389.6L1300.0 389.1L1333.5 400.0L1343.5 421.0L1355.0 451.0L1362.5 475.0L1364.5 490.0L1360.0 508.0L1350.0 538.0L1338.0 568.0L1328.0 590.0L1308.0 638.0L1291.0 679.0L1278.0 709.0L1265.0 738.0L1255.0 760.0L1247.0 768.5L1122.0 688.0L1096.0 673.0Z" fill="url(#panelg)"/>
<path d="M769.0 798.3L820.0 780.0L1020.0 702.6L1096.0 673.0L1122.0 688.0L1246.0 768.8L1225.0 780.5L1160.0 811.5L1051.0 859.5L1000.0 882.0L940.0 909.5L890.0 932.5L840.0 954.5L790.0 976.2L753.3 990.9L724.5 997.3L707.8 981.3L720.6 930.0L737.5 902.0L749.0 850.0L761.8 805.0Z" fill="#84898d"/>
<path d="M751.7 848.3L795.0 859.8L885.0 859.5L1056.8 792.0L1056.8 820.3L885.0 894.0L784.4 894.0L738.3 880.0L742.0 862.0Z" fill="#72777b"/>
<path d="M738.3 880.0L784.4 894.0L885.0 894.0L1056.8 820.3L1056.8 862.0L1000.0 888.0L940.0 915.5L890.0 938.5L840.0 960.5L790.0 982.2L753.3 997.0L724.5 1004.0L696.0 994.0L696.0 960.0L720.0 915.0Z" fill="#1b1c1e"/>
<path d="M812.8 700.4L906.0 668.0L1000.0 635.6L1090.0 602.6L1180.0 569.6L1250.0 544.0L1300.0 526.0 L1310.1 522.5 L1359.5 452" fill="none" stroke="#050505" stroke-width="4.5" stroke-linejoin="round"/>
<path d="M769 798.3 L820 780 L1020 702.6 L1096 673" fill="none" stroke="#050505" stroke-width="2.5"/>
<path d="M996 584 L1158 531 Q1176 526 1180 544 L1181 560 Q1181 568 1174 571.5 L1004 628 Q990 631 985 612 Q981 590 996 584 Z" fill="url(#handleg)"/>
<path d="M996 584 L1158 531 Q1170 528 1176 535 L1000 596 Q990 596 996 584 Z" fill="#4a4d50" fill-opacity="0.55"/>
<g transform="translate(1036.2 609.4) rotate(-18.6)">
<rect x="-14" y="-20.5" width="150" height="26.5" rx="8" fill="#8b8c8e" fill-opacity="0.78"/>
<text x="0" y="0" font-size="15" font-style="italic" fill="#bcbdbe" textLength="128" lengthAdjust="spacingAndGlyphs">VIKINGBAGS</text>
</g>
</g>
<path d="M1322.0 396.8C1317.5 395.7 1304.1 391.9 1295.2 390.5C1286.3 389.0 1277.3 388.4 1268.4 388.2C1259.5 388.1 1250.6 388.6 1241.7 389.4C1232.8 390.1 1223.9 391.5 1215.0 393.0C1206.2 394.5 1197.3 396.4 1188.5 398.3C1179.6 400.3 1170.8 402.4 1162.0 404.6C1153.2 406.7 1144.4 408.9 1135.6 411.2C1126.8 413.5 1118.1 415.9 1109.3 418.3C1100.6 420.8 1092.0 423.3 1083.3 426.0C1074.7 428.6 1066.1 431.3 1057.5 434.2C1049.0 437.1 1040.4 440.0 1032.0 443.2C1023.5 446.3 1015.1 449.5 1006.8 452.9C998.4 456.3 990.2 459.8 981.9 463.6C973.7 467.3 965.6 471.1 957.5 475.2C949.4 479.3 941.4 483.4 933.6 487.9C925.8 492.5 918.0 497.1 910.7 502.3C903.4 507.5 896.2 512.9 889.7 519.0C883.2 525.1 877.2 531.8 871.5 538.8C865.9 545.9 860.9 553.6 855.9 561.2C850.9 568.7 846.2 576.5 841.6 584.4C837.0 592.2 832.6 600.1 828.3 608.1C824.0 616.1 819.9 624.2 815.9 632.2C811.8 640.3 807.9 648.5 804.0 656.6C800.2 664.8 796.4 673.0 792.7 681.2C789.0 689.4 785.3 697.6 781.7 705.8C778.0 714.1 772.6 726.4 770.8 730.6L742.9 799.3C744.7 795.2 749.8 782.8 753.5 774.6C757.2 766.4 761.3 758.4 765.2 750.3C769.2 742.2 773.3 734.2 777.4 726.2C781.5 718.1 785.6 710.1 789.7 702.1C793.9 694.1 798.0 686.2 802.3 678.2C806.5 670.2 810.7 662.3 815.0 654.3C819.2 646.4 823.5 638.5 827.8 630.6C832.2 622.7 836.5 614.8 840.9 607.0C845.3 599.1 849.7 591.2 854.1 583.4C858.6 575.6 862.6 567.5 867.5 560.0C872.4 552.5 877.9 545.4 883.7 538.7C889.6 531.9 895.8 525.5 902.4 519.5C909.0 513.5 915.9 507.9 923.1 502.7C930.3 497.4 937.8 492.6 945.5 488.2C953.2 483.8 961.2 479.8 969.3 476.1C977.4 472.5 985.7 469.3 994.0 466.3C1002.3 463.2 1010.8 460.6 1019.3 458.1C1027.8 455.5 1036.3 453.3 1044.8 450.9C1053.3 448.5 1061.8 446.3 1070.3 443.9C1078.9 441.5 1087.4 439.1 1095.9 436.6C1104.4 434.0 1112.9 431.3 1121.5 428.6C1130.0 425.9 1138.6 423.1 1147.2 420.4C1155.7 417.6 1164.3 414.9 1172.9 412.3C1181.6 409.8 1190.2 407.2 1198.8 405.0C1207.5 402.8 1216.1 400.7 1224.8 399.0C1233.5 397.3 1242.2 395.9 1250.9 394.9C1259.7 393.9 1268.4 393.2 1277.2 393.1C1285.9 393.0 1294.7 393.3 1303.5 394.3C1312.3 395.3 1325.6 398.2 1330.0 399.0Z" fill="#ffffff" fill-opacity="0.055"/>
<path d="M1051.4 439.4 L1048.9 450 M1082.2 430.6 L1079.3 440.9" stroke="#0c0c0d" stroke-width="1.6" fill="none"/>
<path d="M1330.0 399.0C1325.6 398.2 1312.3 395.3 1303.5 394.3C1294.7 393.3 1285.9 393.0 1277.2 393.1C1268.4 393.2 1259.7 393.9 1250.9 394.9C1242.2 395.9 1233.5 397.3 1224.8 399.0C1216.1 400.7 1207.5 402.8 1198.8 405.0C1190.2 407.2 1181.6 409.8 1172.9 412.3C1164.3 414.9 1155.7 417.6 1147.2 420.4C1138.6 423.1 1130.0 425.9 1121.5 428.6C1112.9 431.3 1104.4 434.0 1095.9 436.6C1087.4 439.1 1078.9 441.5 1070.3 443.9C1061.8 446.3 1053.3 448.5 1044.8 450.9C1036.3 453.3 1027.8 455.5 1019.3 458.1C1010.8 460.6 1002.3 463.2 994.0 466.3C985.7 469.3 977.4 472.5 969.3 476.1C961.2 479.8 953.2 483.8 945.5 488.2C937.8 492.6 930.3 497.4 923.1 502.7C915.9 507.9 909.0 513.5 902.4 519.5C895.8 525.5 889.6 531.9 883.7 538.7C877.9 545.4 870.2 556.4 867.5 560.0L876.8 560.0C879.9 556.2 888.7 544.6 895.3 537.4C901.8 530.3 908.8 523.4 916.2 517.1C923.5 510.7 931.3 504.8 939.4 499.4C947.4 494.1 955.9 489.3 964.5 485.0C973.2 480.7 982.2 477.0 991.2 473.5C1000.3 470.0 1009.6 467.1 1018.8 464.2C1028.1 461.3 1037.5 458.7 1046.8 456.0C1056.0 453.2 1065.3 450.4 1074.6 447.6C1083.8 444.8 1093.0 441.8 1102.3 439.0C1111.6 436.1 1120.8 433.2 1130.1 430.4C1139.4 427.6 1148.8 424.7 1158.1 422.1C1167.5 419.4 1176.9 416.8 1186.3 414.4C1195.7 412.0 1205.1 409.8 1214.6 407.8C1224.1 405.7 1233.6 403.9 1243.2 402.3C1252.7 400.8 1262.4 399.4 1272.0 398.6C1281.6 397.8 1291.3 397.3 1301.0 397.6C1310.6 397.9 1325.2 400.0 1330.0 400.5ZM867.5 560.0C865.3 563.9 858.6 575.6 854.1 583.4C849.7 591.2 845.3 599.1 840.9 607.0C836.5 614.8 832.2 622.7 827.8 630.6C823.5 638.5 819.2 646.4 815.0 654.3C810.7 662.3 806.5 670.2 802.3 678.2C798.0 686.2 793.9 694.1 789.7 702.1C785.6 710.1 781.5 718.1 777.4 726.2C773.3 734.2 769.2 742.2 765.2 750.3C761.3 758.4 757.2 766.4 753.5 774.6C749.8 782.8 746.1 790.9 742.9 799.3C739.7 807.6 737.1 816.1 734.3 824.6C731.5 833.2 729.0 841.8 726.1 850.3C723.2 858.9 719.9 867.4 716.7 875.9C713.5 884.4 710.0 892.9 707.1 901.4C704.1 910.0 701.1 918.5 698.9 927.2C696.8 935.8 694.8 944.5 694.0 953.3C693.2 962.1 694.0 975.5 694.0 980.0L707.8 981.3C708.5 977.0 709.7 964.1 711.9 955.8C714.1 947.5 717.8 939.6 721.0 931.6C724.2 923.6 727.7 915.6 730.9 907.6C734.0 899.6 737.2 891.6 740.1 883.4C743.0 875.3 745.7 867.2 748.1 858.9C750.5 850.7 752.3 842.2 754.6 834.0C756.9 825.7 758.8 817.3 761.8 809.4C764.8 801.5 768.8 793.9 772.8 786.3C776.9 778.8 781.9 771.6 786.1 764.1C790.4 756.5 794.6 749.0 798.3 741.2C802.0 733.4 805.0 725.2 808.3 717.2C811.6 709.2 814.4 701.0 818.0 693.2C821.6 685.4 825.6 677.7 829.9 670.2C834.1 662.7 838.8 655.4 843.4 648.1C847.9 640.7 852.7 633.5 857.1 626.0C861.5 618.6 865.9 611.1 869.6 603.3C873.3 595.5 877.7 583.3 879.3 579.3L874.5 576.1L868.1 572.1L869.7 568.1L876.8 560.0Z" fill="#050505"/>
<path d="M1322.0 396.8C1317.7 395.3 1304.7 391.0 1295.9 388.1C1287.2 385.1 1278.4 381.3 1269.5 379.3C1260.6 377.3 1251.6 376.3 1242.5 375.8C1233.4 375.4 1224.3 376.1 1215.2 376.8C1206.1 377.5 1197.0 378.8 1187.9 380.1C1178.9 381.4 1169.9 383.0 1160.9 384.8C1151.9 386.5 1143.0 388.4 1134.1 390.5C1125.2 392.6 1116.4 394.9 1107.6 397.3C1098.7 399.7 1090.0 402.3 1081.2 404.9C1072.4 407.6 1063.7 410.4 1055.0 413.4C1046.3 416.3 1037.7 419.3 1029.1 422.4C1020.4 425.6 1011.8 428.8 1003.2 432.0C994.6 435.3 986.1 438.7 977.5 442.1C969.0 445.5 960.4 448.9 951.9 452.4C943.5 455.9 934.9 459.3 926.6 463.1C918.3 466.8 910.0 470.6 902.1 475.1C894.3 479.5 886.6 484.2 879.5 489.8C872.4 495.4 865.8 501.8 859.7 508.6C853.5 515.4 847.9 523.2 842.5 530.7C837.0 538.2 832.0 546.0 827.1 553.7C822.1 561.5 817.5 569.4 813.0 577.3C808.6 585.3 804.4 593.3 800.3 601.5C796.2 609.6 792.3 617.9 788.6 626.2C784.8 634.5 781.2 643.0 777.7 651.4C774.1 659.8 770.7 668.4 767.3 676.9C763.9 685.4 760.6 694.0 757.2 702.5C753.9 711.1 750.6 719.6 747.2 728.1C743.8 736.6 740.3 745.1 736.8 753.5C733.3 761.9 727.7 774.3 725.9 778.5L737.4 804.7C739.3 800.6 745.1 788.3 748.8 780.1C752.5 771.8 756.2 763.6 759.9 755.3C763.5 747.1 767.1 738.8 770.8 730.6C774.4 722.3 778.0 714.1 781.7 705.8C785.3 697.6 789.0 689.4 792.7 681.2C796.4 673.0 800.2 664.8 804.0 656.6C807.9 648.5 811.8 640.3 815.9 632.2C819.9 624.2 824.0 616.1 828.3 608.1C832.6 600.1 837.0 592.2 841.6 584.4C846.2 576.5 850.9 568.7 855.9 561.2C860.9 553.6 865.9 545.9 871.5 538.8C877.2 531.8 883.2 525.1 889.7 519.0C896.2 512.9 903.4 507.5 910.7 502.3C918.0 497.1 925.8 492.5 933.6 487.9C941.4 483.4 949.4 479.3 957.5 475.2C965.6 471.1 973.7 467.3 981.9 463.6C990.2 459.8 998.4 456.3 1006.8 452.9C1015.1 449.5 1023.5 446.3 1032.0 443.2C1040.4 440.0 1049.0 437.1 1057.5 434.2C1066.1 431.3 1074.7 428.6 1083.3 426.0C1092.0 423.3 1100.6 420.8 1109.3 418.3C1118.1 415.9 1126.8 413.5 1135.6 411.2C1144.4 408.9 1153.2 406.7 1162.0 404.6C1170.8 402.4 1179.6 400.3 1188.5 398.3C1197.3 396.4 1206.2 394.5 1215.0 393.0C1223.9 391.5 1232.8 390.1 1241.7 389.4C1250.6 388.6 1259.5 388.1 1268.4 388.2C1277.3 388.4 1286.3 389.0 1295.2 390.5C1304.1 391.9 1317.5 395.7 1322.0 396.8Z" fill="#84898d"/>
<path d="M854.5 562.0L861.9 568.3L850.2 589.2L841.2 584.0Z" fill="#7f8488"/>
<g clip-path="url(#bagclip)"><path d="M606.0 634.1L725.9 778.5L741.0 795.0L737.4 804.7L602.0 645.5Z" fill="#84898d"/>
</g>
<path d="M868.1 572.1C866.0 576.0 859.9 587.9 855.7 595.7C851.5 603.6 847.2 611.4 843.0 619.2C838.7 627.0 834.4 634.8 830.1 642.6C825.8 650.4 821.6 658.2 817.4 666.0C813.2 673.9 809.1 681.8 805.1 689.7C801.1 697.6 797.3 705.7 793.4 713.6C789.4 721.6 785.6 729.7 781.6 737.6C777.6 745.6 773.4 753.5 769.2 761.4C765.1 769.3 760.7 777.1 756.9 785.1C753.1 793.1 749.5 801.1 746.4 809.4C743.4 817.7 741.2 826.2 738.7 834.7C736.2 843.2 734.0 851.8 731.4 860.3C728.8 868.8 726.1 877.2 723.1 885.6C720.2 894.1 717.1 902.5 714.0 910.8C710.8 919.2 707.0 927.5 704.1 935.9C701.2 944.2 697.2 952.5 696.5 960.9C695.8 969.3 699.5 982.1 700.1 986.4L700.1 986.4C700.9 982.1 702.7 969.0 704.8 960.5C706.9 952.0 710.0 943.7 712.7 935.4C715.5 927.0 718.6 918.8 721.5 910.4C724.4 902.1 727.3 893.8 730.1 885.4C732.9 877.1 735.7 868.7 738.4 860.4C741.0 852.0 743.5 843.6 746.2 835.3C748.9 827.0 751.4 818.7 754.6 810.6C757.7 802.5 761.4 794.6 765.2 786.8C769.0 779.0 773.4 771.3 777.4 763.5C781.4 755.7 785.6 748.0 789.5 740.1C793.4 732.2 797.1 724.2 800.9 716.2C804.7 708.3 808.5 700.3 812.4 692.5C816.4 684.6 820.5 676.8 824.7 669.1C828.9 661.4 833.3 653.8 837.6 646.1C841.9 638.4 846.3 630.8 850.5 623.1C854.8 615.4 859.0 607.7 863.0 599.9C867.0 592.0 872.6 580.1 874.5 576.1Z" fill="#84898d"/>
<path d="M1330.0 397.0C1331.8 399.0 1337.9 404.2 1341.0 409.0C1344.1 413.8 1345.7 419.0 1348.5 426.0C1351.3 433.0 1355.2 442.8 1358.0 451.0C1360.8 459.2 1363.9 468.5 1365.5 475.0C1367.1 481.5 1367.9 484.2 1367.5 490.0C1367.1 495.8 1365.4 501.7 1363.0 510.0C1360.6 518.3 1356.8 530.0 1353.0 540.0C1349.2 550.0 1344.2 561.3 1340.5 570.0C1336.8 578.7 1336.0 580.3 1331.0 592.0C1326.0 603.7 1317.2 624.1 1310.5 640.0C1303.8 655.9 1295.5 675.6 1290.5 687.5C1285.5 699.4 1284.2 702.5 1280.5 711.2C1276.8 720.0 1271.8 731.7 1268.0 740.0C1264.2 748.3 1261.2 756.0 1258.0 761.0C1254.8 766.0 1254.5 766.5 1249.0 770.0C1243.5 773.5 1239.8 774.8 1225.0 782.0C1210.2 789.2 1189.0 800.1 1160.0 813.4C1131.0 826.6 1077.7 849.7 1051.0 861.5C1024.3 873.3 1018.5 875.7 1000.0 884.0C981.5 892.3 958.3 903.1 940.0 911.5C921.7 919.9 906.7 927.0 890.0 934.5C873.3 942.0 856.7 949.2 840.0 956.5C823.3 963.8 805.8 971.8 790.0 978.5C774.2 985.2 755.7 993.2 745.0 997.0C734.3 1000.8 731.5 1001.3 726.0 1001.0C720.5 1000.7 715.8 998.2 712.0 995.0C708.2 991.8 704.5 984.2 703.0 982.0" fill="none" stroke="#050505" stroke-width="5.5" stroke-linecap="round"/>
<rect x="984.5" y="314.4" width="35" height="34.2" rx="7" fill="#5b596a"/>
<rect x="992" y="320" width="20.5" height="6.8" rx="2" fill="#fff"/>
<rect x="993.4" y="332.2" width="17.8" height="13.7" rx="1.5" fill="#3a3649"/>
<path d="M995 348.6 H1009.5 V356 L1011 359 L1009.5 362 V372 H999 V362 H995 Z" fill="#8d8d9c"/>
<rect x="1001.5" y="350" width="1.6" height="22" fill="#5b596a"/>
<path d="M983 381.5 C983 376 992 372.5 1004 372.5 C1016 372.5 1025.5 376 1025.5 381.5 Z" fill="#d9d9db"/>
<rect x="983" y="380" width="42.5" height="2.4" rx="1.2" fill="#b9b9bd"/>
<g clip-path="url(#bagclip)"><rect x="992" y="320" width="20.5" height="6.8" rx="2" fill="#1a1b1d"/></g>
<g clip-path="url(#latchclip)">
<rect x="738" y="174" width="174" height="174" fill="#35383b"/>
<rect x="738" y="240" width="174" height="110" fill="#35383b" filter="url(#grain)"/>
<path d="M738 174 H912 V251 C904 252 898 258 892 266 C886 272 878 268 874 262 C868 254 850 252 830 253 C800 254 770 256 738 255 Z" fill="#17191b"/>
<rect x="738" y="174" width="174" height="16" fill="#5f6367"/>
<rect x="738" y="189.7" width="174" height="30" fill="#1e2022"/>
<path d="M738 201.5 C780 198 860 198 912 201.5 V204 C860 200.5 780 200.5 738 204Z" fill="#3a3d40"/>
<path d="M738 212.5 C780 209 860 209 912 212.5 V217 C860 213.5 780 213.5 738 217Z" fill="#3b3f43"/>
<path d="M738 217 C780 213.5 860 213.5 912 217 V220 C860 216.5 780 216.5 738 220Z" fill="#101113"/>
<path d="M768.5 263 C790 258 830 254 852 248 C868 238 886 244 887.5 258 C888 270 876 279 862 277 C840 271 800 274 776 277 C762 278 760 266 768.5 263 Z" fill="#4c4f53"/>
<path d="M768.5 263 C790 258 830 254 852 248 C868 238 886 244 887.5 258" fill="none" stroke="#2b2d30" stroke-width="2"/>
<path d="M887.5 258 C888 270 876 279 862 277 C840 271 800 274 776 277 C762 278 760 266 768.5 263" fill="none" stroke="#6b6e72" stroke-width="2"/>
</g>
<circle cx="824.8" cy="260.6" r="84" fill="none" stroke="#000" stroke-width="4.8"/>
<g fill="none" stroke="#000" stroke-width="4" stroke-linejoin="miter"><path d="M822.3 104 V176"/><path d="M1508.8 184.9 H1150.3 V263"/><circle cx="1148.9" cy="315.3" r="53.3"/><path d="M1586.8 485 H1006 V395.5"/><circle cx="1003.4" cy="350.7" r="44.4"/><path d="M489 420 H928.6 V464.5"/><path d="M928.6 483.5 V537.8"/><circle cx="928.2" cy="553.6" r="15.7"/><path d="M353.1 933.5 V801.1 H650"/><circle cx="665.2" cy="800.5" r="14.8"/><path d="M992.3 682 V973.7 H1258.5"/><circle cx="991.7" cy="667.2" r="14.6"/><path d="M1249.5 710.8 H1535.5 V790"/><circle cx="1234.3" cy="711.7" r="14.8"/></g>
<g clip-path="url(#bagclip)"><g fill="none" stroke="#fff" stroke-width="4" stroke-linejoin="miter"><path d="M822.3 104 V176"/><path d="M1508.8 184.9 H1150.3 V263"/><circle cx="1148.9" cy="315.3" r="53.3"/><path d="M1586.8 485 H1006 V395.5"/><circle cx="1003.4" cy="350.7" r="44.4"/><path d="M489 420 H928.6 V464.5"/><path d="M928.6 483.5 V537.8"/><circle cx="928.2" cy="553.6" r="15.7"/><path d="M353.1 933.5 V801.1 H650"/><circle cx="665.2" cy="800.5" r="14.8"/><path d="M992.3 682 V973.7 H1258.5"/><circle cx="991.7" cy="667.2" r="14.6"/><path d="M1249.5 710.8 H1535.5 V790"/><circle cx="1234.3" cy="711.7" r="14.8"/></g><circle cx="928.6" cy="474" r="9.5" fill="#84898d" stroke="#fff" stroke-width="4"/></g>
<g fill="#000">
<g filter="url(#tb)"><text transform="translate(0 90.7) scale(0.62 1)" font-size="49"><tspan x="1057.00" textLength="145.08" lengthAdjust="spacing">Quick</tspan> <tspan x="1216.19" textLength="205.65" lengthAdjust="spacing">Release</tspan> <tspan x="1439.87" textLength="143.68" lengthAdjust="spacing">Latch</tspan></text></g>
<g filter="url(#tb)"><text transform="translate(0 197.8) scale(0.62 1)" font-size="49"><tspan x="2466.16" textLength="156.82" lengthAdjust="spacing">Shock</tspan> <tspan x="2640.06" textLength="165.05" lengthAdjust="spacing">Cutout</tspan></text></g>
<g filter="url(#tb)"><text transform="translate(0 499.9) scale(0.62 1)" font-size="49"><tspan x="2592.00" textLength="92.18" lengthAdjust="spacing">Key</tspan> <tspan x="2700.06" textLength="235.45" lengthAdjust="spacing">Lockable</tspan></text></g>
<g filter="url(#tb)"><text transform="translate(0 842.0) scale(0.62 1)" font-size="49"><tspan x="2214.87" textLength="295.55" lengthAdjust="spacing">Detachable</tspan> <tspan x="2526.77" textLength="131.11" lengthAdjust="spacing">Liner</tspan> <tspan x="2674.26" textLength="100.42" lengthAdjust="spacing">Bag</tspan></text></g>
<g filter="url(#tb)"><text transform="translate(0 987.8) scale(0.62 1)" font-size="49"><tspan x="2051.16" textLength="210.82" lengthAdjust="spacing">Internal</tspan> <tspan x="2278.26" textLength="253.65" lengthAdjust="spacing">Organizer</tspan></text></g>
<g filter="url(#tb)"><text transform="translate(0 983.4) scale(0.62 1)" font-size="49"><tspan x="308.39" textLength="214.03" lengthAdjust="spacing">Weather</tspan> <tspan x="538.16" textLength="245.45" lengthAdjust="spacing">Resistant</tspan></text></g>
<g filter="url(#tb)"><text transform="translate(0 408.4) scale(0.62 1)" font-size="49"><tspan x="488.06" textLength="122.48" lengthAdjust="spacing">Hard</tspan> <tspan x="625.23" textLength="135.82" lengthAdjust="spacing">Shell</tspan></text></g>
<g filter="url(#tb)"><text transform="translate(0 454.2) scale(0.62 1)" font-size="49"><tspan x="488.06" textLength="74.44" lengthAdjust="spacing">Lid</tspan> <tspan x="578.87" textLength="70.29" lengthAdjust="spacing">&amp;</tspan> <tspan x="630.00" textLength="123.77" lengthAdjust="spacing">Body</tspan></text></g>
<g><text transform="translate(0 1164.5) scale(0.66 1)" font-size="51"><tspan x="1369.97" textLength="249.98" lengthAdjust="spacing">American</tspan> <tspan x="1638.39" textLength="304.89" lengthAdjust="spacing">Engineering</tspan></text></g>
</g>
<rect x="771" y="1122.8" width="85.8" height="52.1" fill="#fff"/><rect x="771" y="1122.80" width="85.8" height="4.01" fill="#e30a17"/><rect x="771" y="1130.82" width="85.8" height="4.01" fill="#e30a17"/><rect x="771" y="1138.83" width="85.8" height="4.01" fill="#e30a17"/><rect x="771" y="1146.85" width="85.8" height="4.01" fill="#e30a17"/><rect x="771" y="1154.86" width="85.8" height="4.01" fill="#e30a17"/><rect x="771" y="1162.88" width="85.8" height="4.01" fill="#e30a17"/><rect x="771" y="1170.90" width="85.8" height="4.01" fill="#e30a17"/><rect x="771" y="1122.8" width="34.1" height="28" fill="#0a2580"/><circle cx="773.9" cy="1125.5" r="1.05" fill="#fff"/><circle cx="779.6" cy="1125.5" r="1.05" fill="#fff"/><circle cx="785.3" cy="1125.5" r="1.05" fill="#fff"/><circle cx="790.9" cy="1125.5" r="1.05" fill="#fff"/><circle cx="796.6" cy="1125.5" r="1.05" fill="#fff"/><circle cx="802.3" cy="1125.5" r="1.05" fill="#fff"/><circle cx="776.7" cy="1128.3" r="1.05" fill="#fff"/><circle cx="782.4" cy="1128.3" r="1.05" fill="#fff"/><circle cx="788.1" cy="1128.3" r="1.05" fill="#fff"/><circle cx="793.8" cy="1128.3" r="1.05" fill="#fff"/><circle cx="799.5" cy="1128.3" r="1.05" fill="#fff"/><circle cx="773.9" cy="1131.2" r="1.05" fill="#fff"/><circle cx="779.6" cy="1131.2" r="1.05" fill="#fff"/><circle cx="785.3" cy="1131.2" r="1.05" fill="#fff"/><circle cx="790.9" cy="1131.2" r="1.05" fill="#fff"/><circle cx="796.6" cy="1131.2" r="1.05" fill="#fff"/><circle cx="802.3" cy="1131.2" r="1.05" fill="#fff"/><circle cx="776.7" cy="1134.0" r="1.05" fill="#fff"/><circle cx="782.4" cy="1134.0" r="1.05" fill="#fff"/><circle cx="788.1" cy="1134.0" r="1.05" fill="#fff"/><circle cx="793.8" cy="1134.0" r="1.05" fill="#fff"/><circle cx="799.5" cy="1134.0" r="1.05" fill="#fff"/><circle cx="773.9" cy="1136.9" r="1.05" fill="#fff"/><circle cx="779.6" cy="1136.9" r="1.05" fill="#fff"/><circle cx="785.3" cy="1136.9" r="1.05" fill="#fff"/><circle cx="790.9" cy="1136.9" r="1.05" fill="#fff"/><circle cx="796.6" cy="1136.9" r="1.05" fill="#fff"/><circle cx="802.3" cy="1136.9" r="1.05" fill="#fff"/><circle cx="776.7" cy="1139.7" r="1.05" fill="#fff"/><circle cx="782.4" cy="1139.7" r="1.05" fill="#fff"/><circle cx="788.1" cy="1139.7" r="1.05" fill="#fff"/><circle cx="793.8" cy="1139.7" r="1.05" fill="#fff"/><circle cx="799.5" cy="1139.7" r="1.05" fill="#fff"/><circle cx="773.9" cy="1142.5" r="1.05" fill="#fff"/><circle cx="779.6" cy="1142.5" r="1.05" fill="#fff"/><circle cx="785.3" cy="1142.5" r="1.05" fill="#fff"/><circle cx="790.9" cy="1142.5" r="1.05" fill="#fff"/><circle cx="796.6" cy="1142.5" r="1.05" fill="#fff"/><circle cx="802.3" cy="1142.5" r="1.05" fill="#fff"/><circle cx="776.7" cy="1145.4" r="1.05" fill="#fff"/><circle cx="782.4" cy="1145.4" r="1.05" fill="#fff"/><circle cx="788.1" cy="1145.4" r="1.05" fill="#fff"/><circle cx="793.8" cy="1145.4" r="1.05" fill="#fff"/><circle cx="799.5" cy="1145.4" r="1.05" fill="#fff"/><circle cx="773.9" cy="1148.2" r="1.05" fill="#fff"/><circle cx="779.6" cy="1148.2" r="1.05" fill="#fff"/><circle cx="785.3" cy="1148.2" r="1.05" fill="#fff"/><circle cx="790.9" cy="1148.2" r="1.05" fill="#fff"/><circle cx="796.6" cy="1148.2" r="1.05" fill="#fff"/><circle cx="802.3" cy="1148.2" r="1.05" fill="#fff"/>
</svg>
</body></html>
